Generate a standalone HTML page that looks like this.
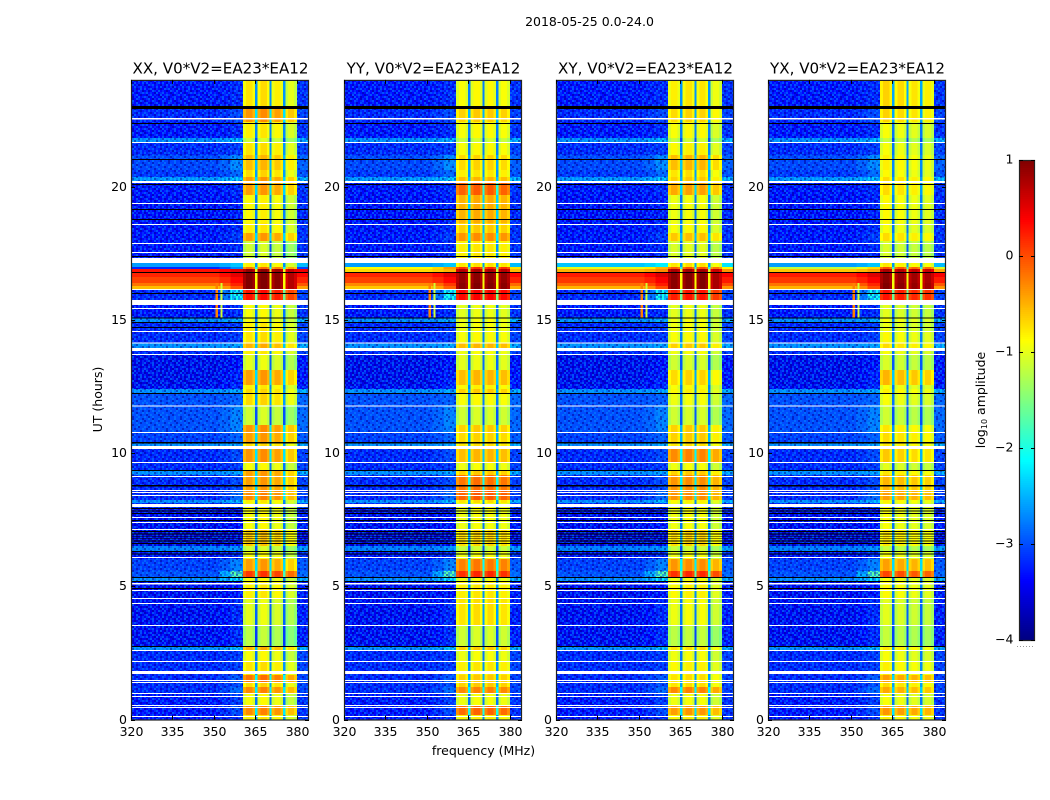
<!DOCTYPE html>
<html>
<head>
<meta charset="utf-8">
<title>2018-05-25 amplitude waterfall</title>
<style>
html,body{margin:0;padding:0;background:#fff;width:1050px;height:800px;overflow:hidden}
svg{display:block}
text{font-family:"DejaVu Sans","Liberation Sans",sans-serif;fill:#000}
.tick{font-size:12.5px}
.title{font-size:15.1px}
.label{font-size:12.5px}
</style>
</head>
<body>
<svg id="figure" width="1050" height="800" viewBox="0 0 1050 800" xmlns="http://www.w3.org/2000/svg">
  <text class="label" x="589.5" y="26" text-anchor="middle">2018-05-25 0.0-24.0</text>
  <text class="label" x="483.5" y="755" text-anchor="middle">frequency (MHz)</text>
  <text class="label" transform="translate(102,399.5) rotate(-90)" text-anchor="middle">UT (hours)</text>
  <text class="label" transform="translate(985,400) rotate(-90)" text-anchor="middle">log<tspan font-size="8" dy="2">10</tspan><tspan dy="-2"> amplitude</tspan></text>
</svg>
<script>
// ---- shared axis data ----
const hourTicks = [0, 5, 10, 15, 20];
const freqTicks = [320, 335, 350, 365, 380];
const colorTicks = [1, 0, -1, -2, -3, -4];
// top of each time row (hours); every row runs down to the next entry, the last to 0
const rowTopHours = [
 24.00,23.02,22.42,21.82,21.67,21.18,20.62,20.36,20.21,19.68,
 18.63,18.26,17.95,17.32,17.13,16.98,16.90,16.79,16.60,16.38,16.27,16.15,
 15.74,15.55,15.07,14.92,14.58,14.10,13.94,13.72,13.11,12.55,
 12.40,12.25,11.80,11.05,10.79,10.38,10.26,10.15,9.66,9.36,
 9.17,8.61,8.24,8.12,7.94,7.11,6.51,6.32,6.02,5.57,
 5.31,5.20,4.56,3.55,2.76,2.61,2.20,1.82,1.67,1.41,
 1.22,1.00,0.54,0.17];
// log10 amplitude outside the observing band, per time row
const lowLevels = [
 -3.35,-3.25,-3.35,-2.6,-3.25,-3.05,-3.15,-2.55,-3.35,-3.4,
 -3.35,-3.35,-3.35,-3.25,-2.6,-3.2,0.3,0.2,0.05,-0.2,-0.55,-3.25,
 -3.25,-3.35,-2.6,-3.25,-3.25,-2.6,-3.25,-3.5,-3.5,-3.45,
 -2.6,-3.0,-3.0,-3.0,-3.1,-2.6,-3.25,-3.25,-3.25,-2.6,
 -3.25,-3.25,-2.6,-3.25,-3.45,-3.55,-2.7,-3.35,-3.1,-3.0,
 -2.6,-3.45,-3.45,-3.45,-2.6,-3.25,-3.25,-3.25,-3.25,-3.25,
 -3.25,-3.35,-3.35,-3.35];
// extra amplitude just below the band edge, per time row
const shoulderLift = [
 0.1,0.2,0.1,0.2,0.1,0.4,0.3,0.2,0.1,0.1,
 0.1,0.2,0.1,0.1,0.2,0.5,0.2,0.3,0.3,0.4,0.5,1.2,
 0.1,0.1,0.1,0.1,0.1,0.1,0.1,0.1,0.2,0.2,
 0.1,0.1,0.3,0.3,0.2,0.1,0.1,0.2,0.1,0.1,
 0.2,0.4,0.2,0.1,0.1,0.1,0.1,0.1,0.4,1.3,
 0.4,0.1,0.2,0.2,0.2,0.1,0.1,0.1,0.3,0.2,
 0.4,0.2,0.3,0.1];
// frequency columns: edges in MHz and the kind of each column
const freqEdges = [320,352,356,360.5,361.5,363.9,364.9,365.8,366.8,369.1,370.1,370.8,371.8,374,375,375.8,376.8,379,380,384];
const freqKinds = ["low","near","shoulder","s0e","s0c","s0e","gap","s1e","s1c","s1e","gap","s2e","s2c","s2e","gap","s3e","s3c","s3e","high"];
// rows with no data, [top hour, bottom hour]
const whiteRows = [
 [22.57,22.51],[21.67,21.63],[20.21,20.13],[19.38,19.34],[18.59,18.56],[17.88,17.84],[17.54,17.50],[17.32,17.13],
 [16.15,16.12],[15.74,15.55],[15.44,15.40],[14.58,14.54],[14.14,14.10],[13.94,13.83],[13.72,13.68],[11.78,11.74],
 [10.79,10.75],[10.26,10.15],[9.66,9.62],[9.14,9.10],[8.61,8.57],[8.54,8.50],[8.42,8.39],[8.09,7.97],[7.60,7.56],
 [7.41,7.37],[7.15,7.11],[6.10,6.06],[5.12,5.07],[4.86,4.82],[4.56,4.52],[4.37,4.33],[3.55,3.51],[2.61,2.57],
 [2.20,2.16],[1.82,1.71],[1.48,1.44],[1.41,1.37],[1.00,0.96],[0.88,0.84],[0.54,0.51],[0.47,0.43],[0.13,0.09]];
const blackRows = [
 [23.02,22.91],[22.38,22.35],[21.03,21.00],[20.09,20.06],[19.16,19.12],[18.78,18.74],[17.39,17.35],[16.79,16.76],
 [16.00,15.97],[15.08,15.05],[14.92,14.88],[14.73,14.69],[12.25,12.21],[10.41,10.36],[9.36,9.32],[8.80,8.74],
 [7.94,7.90],[7.84,7.80],[7.75,7.71],[7.49,7.45],[7.07,7.04],[6.98,6.95],[6.89,6.86],[6.80,6.77],[6.71,6.68],
 [6.62,6.59],[6.32,6.28],[6.23,6.19],[5.35,5.31],[5.20,5.16],[4.93,4.90],[2.76,2.72]];
// narrow interference tones: [MHz from, MHz to, hour top, hour bottom, level]
const rfiTones = [[350.6,351.5,16.38,15.05,-0.25],[352.3,353.1,16.38,15.05,-1.1]];

// ---- per-panel series ----
const panelNames = ["XX","YY","XY","YX"];
const panelLeft = [131,344,556,768];
const bandXX = [
 -0.85,-0.45,-0.9,-1.2,-0.85,-0.65,-0.8,-0.5,-0.5,-0.95,
 -0.9,-0.5,-1.2,-1.0,-0.9,-0.3,0.8,0.9,0.9,0.9,0.9,0.2,
 -1.0,-1.0,-1.0,-0.9,-0.85,-0.6,-0.9,-1.1,-0.5,-0.9,
 -0.8,-0.8,-1.2,-0.45,-0.5,-0.8,-0.8,-0.45,-1.0,-0.5,
 -0.5,-0.4,-0.9,-1.0,-1.0,-0.7,-1.2,-1.0,-0.5,0.0,
 -1.0,-0.9,-1.1,-1.3,-0.6,-1.0,-0.85,-0.8,-0.3,-0.8,
 -0.4,-1.0,-0.4,-0.9];
const bandYY = [
 -0.95,-0.7,-0.95,-1.2,-0.95,-0.75,-0.85,-0.6,-0.15,-0.55,
 -0.7,-0.4,-0.85,-1.0,-0.8,0.1,0.7,0.85,0.85,0.9,0.9,0.3,
 -1.0,-1.05,-1.0,-1.0,-0.95,-0.6,-1.0,-1.05,-0.6,-0.9,
 -0.7,-0.95,-1.15,-0.7,-0.75,-0.8,-0.8,-0.6,-1.0,-0.7,
 -0.25,-0.15,-0.8,-1.0,-1.0,-0.75,-1.2,-1.0,-0.3,0.1,
 -1.0,-0.85,-0.8,-1.15,-0.7,-1.0,-0.85,-0.8,-0.7,-0.7,
 -0.35,-1.0,-0.2,-0.9];
const bandXY = [
 -0.85,-0.75,-0.95,-1.2,-0.9,-0.6,-0.8,-0.7,-0.5,-1.0,
 -0.95,-0.65,-1.1,-1.0,-0.8,-0.1,0.75,0.9,0.9,0.9,0.9,0.2,
 -1.0,-1.05,-1.0,-1.0,-0.95,-0.7,-1.0,-1.15,-0.75,-0.95,
 -0.9,-1.0,-1.15,-0.7,-0.7,-0.8,-0.8,-0.35,-1.0,-0.7,
 -0.4,-0.4,-0.9,-1.0,-1.0,-0.75,-1.2,-1.0,-0.4,0.1,
 -1.0,-0.9,-1.0,-1.25,-0.8,-1.0,-0.9,-0.85,-0.8,-0.8,
 -0.35,-1.0,-0.45,-0.9];
const bandYX = [
 -0.75,-0.75,-1.0,-1.25,-1.0,-0.9,-0.95,-0.8,-0.8,-0.95,
 -1.0,-0.8,-1.15,-1.0,-0.85,-0.1,0.7,0.85,0.85,0.9,0.9,0.2,
 -1.0,-1.1,-1.0,-1.05,-0.95,-0.8,-1.0,-1.15,-0.6,-1.0,
 -0.9,-1.0,-1.2,-0.85,-0.8,-0.85,-0.8,-0.7,-1.1,-0.85,
 -0.6,-0.5,-0.9,-1.0,-1.0,-0.85,-1.25,-1.0,-0.5,-0.05,
 -1.0,-0.95,-1.1,-1.25,-0.85,-1.0,-0.9,-0.85,-0.5,-0.8,
 -0.55,-1.0,-0.45,-0.9];
const subbandOffsetsXX = [0.05,0.1,0.0,-0.2];
const subbandOffsetsYY = [0.0,0.05,0.05,0.0];
const subbandOffsetsXY = [0.0,0.05,0.05,-0.15];
const subbandOffsetsYX = [0.05,0.0,-0.05,-0.1];
// flare rows (index 14-20) of the out-of-band level differ between panels
const flareXX = [-2.6,-3.2,0.3,0.2,0.05,-0.2,-0.55];
const flareYY = [-2.6,-0.9,-0.7,0.2,0.05,-0.3,-0.6];
const flareXY = [-2.4,-1.0,-0.5,0.25,0.1,-0.15,-0.5];
const flareYX = [-2.6,-1.2,-0.6,0.25,0.1,-0.2,-0.5];
const panelBand = [bandXX,bandYY,bandXY,bandYX];
const panelSub = [subbandOffsetsXX,subbandOffsetsYY,subbandOffsetsXY,subbandOffsetsYX];
const panelFlare = [flareXX,flareYY,flareXY,flareYX];

// hand-typed speckle texture for the noise floor
const speckleTile = [
 "#+-.#.+.-#.+-.+#..-+.#.+",
 ".+#.-+.#+.#.-+.#.+-.#+.-",
 "-.+.#+.-.#+.+#.-.+#.-.#+",
 "+#.-.+#..+-.#+.+-.+.#.-.",
 ".+#.+-.#.#.+.-#+.#-.+#.+",
 "#.-+#.+.+-.#.+.-#.+.#-.+",
 ".-+.#.-#+.+-.#+.+#.-.+.#",
 "+.#.+.#+.#.-+.#.-.+#+.-.",
 "#+.-.#.+-.+.#.-+#.+.-#.+",
 ".#.+.-+#.#.-+.#.+.-#.+.#",
 "-.#+#.+.-+.#.#+.-.#.+-.+",
 "+.-.+.#.#.-+.+-#.+.#.+#.",
 "#.+#.-+.-.#+#.+.-#.+-.#.",
 ".+-.#+.#.+.-.#+.#.-+.#+-",
 "+#.+.-#.+#.+.-.#+.#.-.+#",
 ".-+#.+.-#.+#+.-.+#.+#.-."];

// ---- scales ----
const pxPerMHz = 177 / 64;
const pxPerHour = 26.65;
const bottomY = 719.5;
const topY = bottomY - 24 * pxPerHour;
const plotWidth = 177;
function xScale(panel, mhz) { return panelLeft[panel] + (mhz - 320) * pxPerMHz; }
function yScale(hour) { return bottomY - hour * pxPerHour; }
function clamp01(v) { return Math.max(0, Math.min(1, v)); }
function jet(v) {
  const t = clamp01((v + 4) / 5);
  const r = clamp01(1.5 - Math.abs(4 * t - 3));
  const g = clamp01(1.5 - Math.abs(4 * t - 2));
  const b = clamp01(1.5 - Math.abs(4 * t - 1));
  return "rgb(" + Math.round(r * 255) + "," + Math.round(g * 255) + "," + Math.round(b * 255) + ")";
}
const svgNS = "http://www.w3.org/2000/svg";
const figure = document.getElementById("figure");
function make(tag, parent, attrs) {
  const el = document.createElementNS(svgNS, tag);
  for (const k in attrs) el.setAttribute(k, attrs[k]);
  parent.appendChild(el);
  return el;
}

// speckle pattern
const defs = make("defs", figure, {});
const tilePattern = make("pattern", defs, {id: "speckle", patternUnits: "userSpaceOnUse", x: 0, y: 0, width: 48, height: 32});
speckleTile.forEach(function (line, r) {
  for (let c = 0; c < line.length; c++) {
    if (line[c] === ".") continue;
    const shade = line[c] === "#" ? "rgba(0,130,255,0.6)" : line[c] === "+" ? "rgba(0,80,255,0.5)" : "rgba(0,0,150,0.5)";
    make("rect", tilePattern, {x: c * 2, y: r * 2, width: 2, height: 2, fill: shade});
  }
});

function cellLevel(panel, row, kind) {
  let low = lowLevels[row];
  if (row >= 14 && row <= 20) low = panelFlare[panel][row - 14];
  const band = panelBand[panel][row];
  if (kind === "low") return low;
  if (kind === "near") return low + shoulderLift[row] * 0.4;
  if (kind === "shoulder") return low + shoulderLift[row];
  if (kind === "high") return low + 0.15;
  if (kind === "gap") return band - 1.8;
  const sub = panelSub[panel][+kind[1]];
  return band + sub + (kind[2] === "c" ? 0.05 : -0.12);
}

panelNames.forEach(function (name, p) {
  const g = make("g", figure, {"shape-rendering": "crispEdges"});
  
  
  rowTopHours.forEach(function (top, r) {
    const bottom = r + 1 < rowTopHours.length ? rowTopHours[r + 1] : 0;
    const y0 = yScale(top), y1 = yScale(bottom);
    freqKinds.forEach(function (kind, c) {
      const x0 = xScale(p, freqEdges[c]), x1 = xScale(p, freqEdges[c + 1]);
      const cell = make("rect", g, {x: x0, y: y0, width: x1 - x0, height: y1 - y0 + 0.3, fill: jet(cellLevel(p, r, kind))});
      
      
    });
    if (r < 14 || r > 20) {
      [[320, 360.5], [380, 384]].forEach(function (span) {
        const sp = make("rect", g, {x: xScale(p, span[0]), y: y0, width: (span[1] - span[0]) * pxPerMHz, height: y1 - y0, fill: "url(#speckle)"});
        
        
      });
    }
  });
  rfiTones.forEach(function (tone) {
    const t = make("rect", g, {x: xScale(p, tone[0]), y: yScale(tone[2]), width: (tone[1] - tone[0]) * pxPerMHz, height: yScale(tone[3]) - yScale(tone[2]), fill: jet(tone[4])});
    
    
  });
  whiteRows.forEach(function (span) {
    const w = make("rect", g, {x: xScale(p, 320), y: yScale(span[0]), width: plotWidth, height: yScale(span[1]) - yScale(span[0]), fill: "#fff"});
    
    
  });
  blackRows.forEach(function (span) {
    const b = make("rect", g, {x: xScale(p, 320), y: yScale(span[0]), width: plotWidth, height: yScale(span[1]) - yScale(span[0]), fill: "#000"});
    
    
  });

  // frame, ticks, labels
  const left = panelLeft[p];
  const frame = make("rect", figure, {x: left + 0.5, y: topY + 0.5, width: plotWidth, height: bottomY - topY, fill: "none", stroke: "#222", "stroke-width": 1.2});
  
  
  hourTicks.forEach(function (h) {
    const y = Math.round(yScale(h)) + 0.5;
    const tl = make("path", figure, {d: "M" + left + " " + y + "h4M" + (left + plotWidth + 1) + " " + y + "h-4", stroke: "#000", fill: "none"});
    
    
    const lab = make("text", figure, {"class": "tick", x: left - 4, y: y + 3.5, "text-anchor": "end"});
    lab.textContent = h;
    
    
  });
  freqTicks.forEach(function (f) {
    const x = Math.round(xScale(p, f)) + 0.5;
    const tl = make("path", figure, {d: "M" + x + " " + bottomY + "v-4M" + x + " " + topY + "v4", stroke: "#000", fill: "none"});
    
    
    const lab = make("text", figure, {"class": "tick", x: x, y: 736, "text-anchor": "middle"});
    lab.textContent = f;
    
    
  });
  const title = make("text", figure, {"class": "title", x: left + 89.5, y: 73.5, "text-anchor": "middle"});
  title.textContent = name + ", V0*V2=EA23*EA12";
  
  
});

// ---- colorbar ----
const cbLeft = 1019, cbWidth = 16, cbTop = 160, cbBottom = 640;
function cbY(v) { return cbBottom - (v + 4) / 5 * (cbBottom - cbTop); }
const cb = make("g", figure, {"shape-rendering": "crispEdges"});


for (let v = -4; v < 1; v += 0.02) {
  const s = make("rect", cb, {x: cbLeft, y: cbY(v + 0.02), width: cbWidth, height: cbY(v) - cbY(v + 0.02) + 0.4, fill: jet(v + 0.01)});
  
  
}
const cbFrame = make("rect", figure, {x: cbLeft + 0.5, y: cbTop + 0.5, width: cbWidth - 1, height: cbBottom - cbTop, fill: "none", stroke: "#222", "stroke-width": 1.2});


colorTicks.forEach(function (v) {
  const y = Math.round(cbY(v)) + 0.5;
  const t = make("path", figure, {d: "M" + cbLeft + " " + y + "h4M" + (cbLeft + cbWidth) + " " + y + "h-4", stroke: "#000", fill: "none"});
  
  
  const lab = make("text", figure, {"class": "tick", x: 1013.5, y: y + 3, "text-anchor": "end"});
  lab.textContent = v < 0 ? "\u2212" + Math.abs(v) : v;
  
  
});
const dots = make("line", figure, {x1: 1017, x2: 1035, y1: 646.5, y2: 646.5, stroke: "#999", "stroke-dasharray": "1 2"});


</script>
</body>
</html>
